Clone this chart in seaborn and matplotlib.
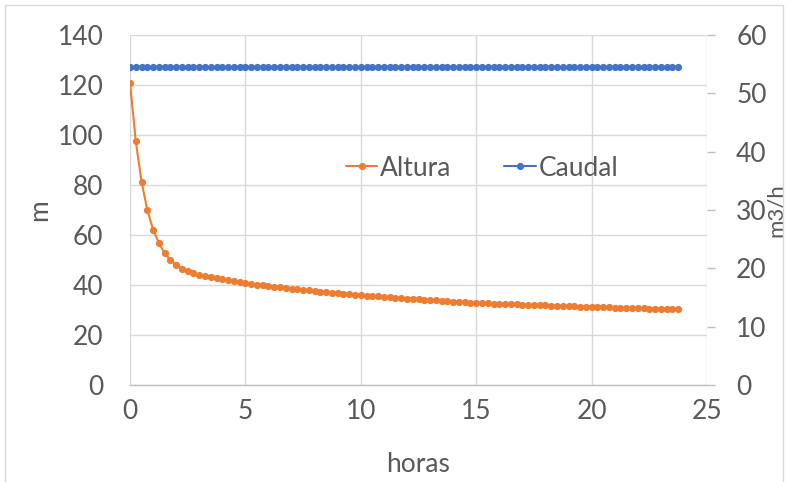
import numpy as np
import pandas as pd
import matplotlib
matplotlib.use("Agg")
import matplotlib.pyplot as plt
import seaborn as sns
from matplotlib.lines import Line2D
from matplotlib.patches import Rectangle

# Time grid (hours), one reading every 15 minutes
horas = np.arange(0, 24, 0.25)

# Pumping head (m)
altura = [
    121.0, 97.5, 81.3, 70.0, 62.2, 56.8, 52.8, 50.0, 48.0, 46.6,
    45.6, 44.8, 44.1, 43.6, 43.1, 42.7, 42.3, 41.9, 41.5, 41.2,
    40.8, 40.5, 40.2, 40.0, 39.7, 39.4, 39.1, 38.9, 38.6, 38.4,
    38.1, 37.9, 37.6, 37.4, 37.2, 37.0, 36.8, 36.6, 36.4, 36.2,
    36.0, 35.8, 35.6, 35.5, 35.3, 35.1, 35.0, 34.8, 34.6, 34.5,
    34.3, 34.2, 34.0, 33.9, 33.7, 33.6, 33.4, 33.3, 33.2, 33.0,
    32.9, 32.8, 32.7, 32.6, 32.5, 32.4, 32.4, 32.3, 32.2, 32.1,
    32.0, 31.9, 31.9, 31.8, 31.7, 31.6, 31.6, 31.5, 31.4, 31.4,
    31.3, 31.2, 31.2, 31.1, 31.0, 31.0, 30.9, 30.8, 30.8, 30.7,
    30.6, 30.6, 30.5, 30.4, 30.4, 30.3,
]

# Flow rate (m3/h), constant over the test
caudal = [54.5] * len(horas)

x_ticks = [0, 5, 10, 15, 20, 25]
left_ticks = [0, 20, 40, 60, 80, 100, 120, 140]
right_ticks = [0, 10, 20, 30, 40, 50, 60]

ORANGE = "#ED7D31"
BLUE = "#4472C4"
TEXT = "#595959"
GRID = "#D9D9D9"
AXIS = "#BFBFBF"
FS = 19
MS = 5.2
LW = 1.5

df = pd.DataFrame({"horas": horas, "altura": altura, "caudal": caudal})

sns.set_theme(style="white")
plt.rcParams["font.family"] = ["Lato", "DejaVu Sans"]

fig = plt.figure(figsize=(7.88, 4.82), dpi=100)
ax = fig.add_axes([130 / 788, 1 - 385 / 482, 577 / 788, 350 / 482])
ax2 = ax.twinx()

sns.lineplot(data=df, x="horas", y="altura", ax=ax, color=ORANGE,
             marker="o", markersize=MS, markeredgewidth=0, linewidth=LW,
             legend=False, zorder=3)
sns.lineplot(data=df, x="horas", y="caudal", ax=ax2, color=BLUE,
             marker="o", markersize=MS, markeredgewidth=0, linewidth=LW,
             legend=False, zorder=3)

ax.set_xlim(0, 25)
ax.set_ylim(0, 140)
ax2.set_ylim(0, 60)
ax.set_xticks(x_ticks)
ax.set_yticks(left_ticks)
ax2.set_yticks(right_ticks)

ax.grid(True, color=GRID, linewidth=1.0)
ax.set_axisbelow(True)
ax2.grid(False)

for a in (ax, ax2):
    for s in a.spines.values():
        s.set_visible(False)
ax.spines["bottom"].set_visible(True)
ax.spines["bottom"].set_color(AXIS)
ax.spines["bottom"].set_linewidth(1.0)

ax.tick_params(axis="x", length=0, pad=10, labelsize=FS, labelcolor=TEXT)
ax.tick_params(axis="y", length=0, pad=19, labelsize=FS, labelcolor=TEXT)
ax2.tick_params(axis="y", length=6, width=1.0, color=AXIS, pad=15,
                labelsize=FS, labelcolor=TEXT, right=True)

ax.set_xlabel("horas", fontsize=FS, color=TEXT, labelpad=20)
ax.set_ylabel("m", fontsize=FS, color=TEXT, labelpad=4)
ax2.set_ylabel("m3/h", fontsize=16, color=TEXT)
ax2.yaxis.set_label_coords((766 - 130) / 577, 0.5)

handles = [
    Line2D([], [], color=ORANGE, marker="o", markersize=MS,
           markeredgewidth=0, linewidth=LW),
    Line2D([], [], color=BLUE, marker="o", markersize=MS,
           markeredgewidth=0, linewidth=LW),
]
leg = ax2.legend(handles, ["Altura", "Caudal"], ncol=2, frameon=False,
                 loc="center", bbox_to_anchor=(0.61, 0.62),
                 fontsize=FS, handlelength=1.2, handletextpad=0.1,
                 columnspacing=2.0)
for t in leg.get_texts():
    t.set_color(TEXT)

fig.patches.append(Rectangle((5 / 788, -0.05), 1 - 10 / 788, 1.05 - 5 / 482,
                             transform=fig.transFigure, fill=False,
                             edgecolor=GRID, linewidth=1.0))

fig.savefig("out.png", dpi=100)
